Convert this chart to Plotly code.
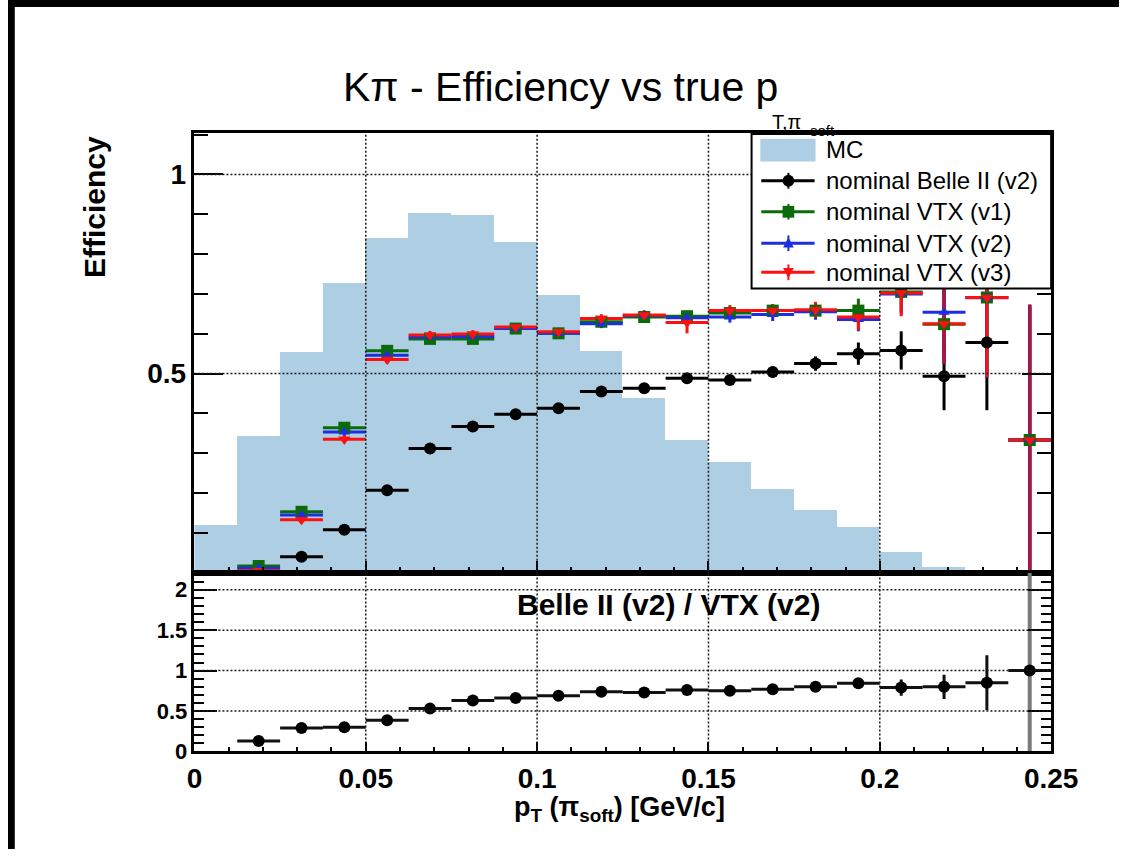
import plotly.graph_objects as go

# ---------------- data ----------------
bin_centers = [0.00625, 0.01875, 0.03125, 0.04375, 0.05625, 0.06875, 0.08125, 0.09375,
               0.10625, 0.11875, 0.13125, 0.14375, 0.15625, 0.16875, 0.18125, 0.19375,
               0.20625, 0.21875, 0.23125, 0.24375]
bin_half_width = 0.00625

mc_shape = [0.120, 0.343, 0.554, 0.727, 0.840, 0.902, 0.897, 0.830, 0.698, 0.557,
            0.440, 0.334, 0.277, 0.211, 0.158, 0.114, 0.052, 0.015, 0.0, 0.0]

belle_v2 = [None, 0.0015, 0.040, 0.108, 0.207, 0.312, 0.367, 0.398, 0.413, 0.455,
            0.463, 0.488, 0.484, 0.504, 0.525, 0.550, 0.558, 0.493, 0.578, 0.333]
belle_v2_err = [0, 0.001, 0.004, 0.006, 0.007, 0.008, 0.008, 0.008, 0.009, 0.009,
                0.010, 0.011, 0.012, 0.014, 0.018, 0.028, 0.048, 0.085, 0.17, 0.333]

vtx_v1 = [None, 0.017, 0.153, 0.364, 0.557, 0.587, 0.587, 0.613, 0.601, 0.630,
          0.642, 0.644, 0.652, 0.658, 0.658, 0.658, 0.705, 0.624, 0.691, 0.333]
vtx_v1_err = [0, 0.004, 0.008, 0.010, 0.010, 0.010, 0.010, 0.010, 0.010, 0.011,
              0.012, 0.013, 0.014, 0.016, 0.020, 0.030, 0.050, 0.100, 0.200, 0.340]

vtx_v2 = [None, 0.011, 0.145, 0.353, 0.546, 0.592, 0.593, 0.613, 0.601, 0.625,
          0.646, 0.640, 0.642, 0.648, 0.655, 0.636, 0.700, 0.654, 0.690, 0.333]
vtx_v2_err = [0, 0.004, 0.008, 0.010, 0.010, 0.010, 0.010, 0.010, 0.010, 0.011,
              0.012, 0.013, 0.014, 0.016, 0.020, 0.030, 0.050, 0.100, 0.200, 0.340]

vtx_v3 = [None, 0.005, 0.133, 0.335, 0.535, 0.597, 0.599, 0.617, 0.605, 0.638,
          0.647, 0.628, 0.658, 0.658, 0.660, 0.642, 0.702, 0.625, 0.691, 0.333]
vtx_v3_err = [0, 0.004, 0.008, 0.010, 0.010, 0.010, 0.010, 0.010, 0.010, 0.011,
              0.012, 0.027, 0.014, 0.016, 0.020, 0.033, 0.058, 0.100, 0.200, 0.340]

ratio = [None, 0.13, 0.29, 0.30, 0.385, 0.53, 0.63, 0.66, 0.69, 0.74,
         0.73, 0.76, 0.75, 0.77, 0.80, 0.845, 0.79, 0.80, 0.85, 1.0]
ratio_err = [0, 0.03, 0.03, 0.03, 0.03, 0.03, 0.03, 0.03, 0.03, 0.03,
             0.03, 0.03, 0.03, 0.035, 0.04, 0.05, 0.10, 0.15, 0.34, 0.0]
ratio_last_err = 1.3          # huge error of the last ratio bin (drawn grey)
overlap_bins = [17, 19]       # bins where the VTX error bars overlap (drawn dark red)

x_ticks = [0, 0.05, 0.1, 0.15, 0.2, 0.25]
x_ticktext = ["0", "0.05", "0.1", "0.15", "0.2", "0.25"]
top_y_ticks = [0.5, 1.0]
top_y_ticktext = ["0.5", "1"]
ratio_y_ticks = [0, 0.5, 1.0, 1.5, 2.0]
ratio_y_ticktext = ["0", "0.5", "1", "1.5", "2"]
grid_x = [0.05, 0.1, 0.15, 0.2]
grid_top_y = [0.5, 1.0]
grid_ratio_y = [0.5, 1.0, 1.5, 2.0]

legend_labels = ["MC", "nominal Belle II (v2)", "nominal VTX (v1)",
                 "nominal VTX (v2)", "nominal VTX (v3)"]

# ---------------- style ----------------
W, H = 1146, 862
FONT = "Liberation Sans, Arial, Helvetica, sans-serif"
MC_COLOR = "#AECFE3"
BLACK = "#000000"
GREEN = "#0B6B0B"
BLUE = "#1C2FE0"
RED = "#FF1010"
MAROON = "#A3164A"
GREY = "#7A7A7A"


def px(x):
    return x / W


def py(y):
    return 1 - y / H


X_DOM = [px(192.3), px(1076)]
TOP_DOM = [py(581.5), py(135)]
BOT_DOM = [py(763), py(581.5)]

fig = go.Figure()

# MC histogram
fig.add_trace(go.Bar(x=bin_centers, y=mc_shape, width=2 * bin_half_width,
                     marker=dict(color=MC_COLOR, line=dict(width=0)),
                     xaxis="x", yaxis="y", showlegend=False, hoverinfo="skip"))


def err_trace(y, err, color, thick, xa="x", ya="y", xerr=True, xs=None):
    xs = bin_centers if xs is None else xs
    return go.Scatter(
        x=xs, y=y, mode="markers",
        marker=dict(size=1, opacity=0, color=color),
        error_x=dict(type="constant", value=bin_half_width, width=0,
                     thickness=thick, color=color, visible=xerr),
        error_y=dict(type="data", array=err, width=0, thickness=thick, color=color),
        xaxis=xa, yaxis=ya, showlegend=False, hoverinfo="skip")


def marker_trace(y, color, symbol, size, xa="x", ya="y"):
    return go.Scatter(x=bin_centers, y=y, mode="markers",
                      marker=dict(symbol=symbol, size=size, color=color, line=dict(width=0)),
                      xaxis=xa, yaxis=ya, showlegend=False)


# error bars
fig.add_trace(err_trace(belle_v2, belle_v2_err, BLACK, 3))
fig.add_trace(err_trace(vtx_v1, vtx_v1_err, GREEN, 3))
fig.add_trace(err_trace(vtx_v2, vtx_v2_err, BLUE, 3))
fig.add_trace(err_trace(vtx_v3, vtx_v3_err, RED, 3))
fig.add_trace(err_trace([vtx_v3[i] for i in overlap_bins],
                        [vtx_v3_err[i] for i in overlap_bins], MAROON, 3.5,
                        xerr=False, xs=[bin_centers[i] for i in overlap_bins]))
# markers
fig.add_trace(marker_trace(belle_v2, BLACK, "circle", 12))
fig.add_trace(marker_trace(vtx_v1, GREEN, "square", 12))
fig.add_trace(marker_trace(vtx_v2, BLUE, "triangle-up", 10))
fig.add_trace(marker_trace(vtx_v3, RED, "triangle-down", 11))

# ratio panel
fig.add_trace(go.Scatter(x=[bin_centers[-1]], y=[ratio[-1]], mode="markers",
                         marker=dict(size=1, opacity=0),
                         error_y=dict(type="constant", value=ratio_last_err, width=0,
                                      thickness=4, color=GREY),
                         xaxis="x2", yaxis="y2", showlegend=False, hoverinfo="skip"))
fig.add_trace(err_trace(ratio, ratio_err, "#111111", 3, xa="x2", ya="y2"))
fig.add_trace(marker_trace(ratio, BLACK, "circle", 12, xa="x2", ya="y2"))

# ---------------- axes ----------------
tickfont_x = dict(family=FONT, size=28, color="black", weight="bold")


def xaxis(anchor, show_labels, major_len, minor_len):
    return dict(domain=X_DOM, anchor=anchor, range=[0, 0.25], tickmode="array",
                tickvals=x_ticks, ticktext=x_ticktext, showticklabels=show_labels,
                tickfont=tickfont_x, ticks="inside", ticklen=major_len, tickwidth=2,
                tickcolor="black", showline=True, linecolor="black", linewidth=2.5,
                mirror=True, showgrid=False, zeroline=False,
                minor=dict(tickmode="linear", tick0=0, dtick=0.01, ticks="inside",
                           ticklen=minor_len, tickwidth=1.5, tickcolor="black",
                           showgrid=False))


def yaxis(anchor, dom, rng, vals, text, fsize, major_len, minor_len):
    return dict(domain=dom, anchor=anchor, range=rng, tickmode="array",
                tickvals=vals, ticktext=text,
                tickfont=dict(family=FONT, size=fsize, color="black", weight="bold"),
                ticks="inside", ticklen=major_len, tickwidth=2, tickcolor="black",
                showline=True, linecolor="black", linewidth=2.5, mirror="ticks",
                showgrid=False, zeroline=False,
                minor=dict(tickmode="linear", tick0=0, dtick=0.1, ticks="inside",
                           ticklen=minor_len, tickwidth=1.5, tickcolor="black",
                           showgrid=False))


fig.update_layout(
    xaxis=xaxis("y", False, 12, 6),
    yaxis=yaxis("x", TOP_DOM, [0, 1.104], top_y_ticks, top_y_ticktext, 28, 29, 14),
    xaxis2=xaxis("y2", True, 10, 5),
    yaxis2=yaxis("x2", BOT_DOM, [0, 2.21], ratio_y_ticks, ratio_y_ticktext, 22, 23, 10),
)

# ---------------- shapes: grid, legend, image edges ----------------
shapes = []
GRID = dict(color="#1a1a1a", width=1.5, dash="2px,2px")
for gx in grid_x:
    shapes.append(dict(type="line", xref="x", yref="y domain", x0=gx, x1=gx, y0=0, y1=1,
                       line=GRID, layer="above"))
    shapes.append(dict(type="line", xref="x2", yref="y2 domain", x0=gx, x1=gx, y0=0, y1=1,
                       line=GRID, layer="above"))
for gy in grid_top_y:
    shapes.append(dict(type="line", xref="x domain", yref="y", x0=0, x1=1, y0=gy, y1=gy,
                       line=GRID, layer="above"))
for gy in grid_ratio_y:
    shapes.append(dict(type="line", xref="x2 domain", yref="y2", x0=0, x1=1, y0=gy, y1=gy,
                       line=GRID, layer="above"))

# legend box
LX0, LX1, LY0, LY1 = 767, 1076, 136, 293
shapes.append(dict(type="rect", xref="paper", yref="paper", x0=px(LX0), x1=px(LX1),
                   y0=py(LY1), y1=py(LY0), fillcolor="white",
                   line=dict(color="black", width=2), layer="above"))
shapes.append(dict(type="rect", xref="paper", yref="paper", x0=px(776), x1=px(833),
                   y0=py(164), y1=py(141), fillcolor=MC_COLOR, line=dict(width=0),
                   layer="above"))
rows = [183.5, 215, 247, 276.5]
row_colors = [BLACK, GREEN, BLUE, RED]
GX0, GX1, GXC = 777, 832, 805
for yc, col in zip(rows, row_colors):
    shapes.append(dict(type="line", xref="paper", yref="paper", x0=px(GX0), x1=px(GX1),
                       y0=py(yc), y1=py(yc), line=dict(color=col, width=3), layer="above"))
    shapes.append(dict(type="line", xref="paper", yref="paper", x0=px(GXC), x1=px(GXC),
                       y0=py(yc - 8), y1=py(yc + 8), line=dict(color=col, width=2),
                       layer="above"))
r = 6
shapes.append(dict(type="circle", xref="paper", yref="paper", x0=px(GXC - r), x1=px(GXC + r),
                   y0=py(rows[0] + r), y1=py(rows[0] - r), fillcolor=BLACK,
                   line=dict(width=0), layer="above"))
shapes.append(dict(type="rect", xref="paper", yref="paper", x0=px(GXC - 6), x1=px(GXC + 6),
                   y0=py(rows[1] + 6), y1=py(rows[1] - 6), fillcolor=GREEN,
                   line=dict(width=0), layer="above"))
t = 5.5
yc = rows[2]
shapes.append(dict(type="path", xref="paper", yref="paper",
                   path=f"M {px(GXC - t)},{py(yc + t * 0.8)} L {px(GXC + t)},{py(yc + t * 0.8)} "
                        f"L {px(GXC)},{py(yc - t * 1.1)} Z",
                   fillcolor=BLUE, line=dict(width=0), layer="above"))
yc = rows[3]
shapes.append(dict(type="path", xref="paper", yref="paper",
                   path=f"M {px(GXC - t)},{py(yc - t * 0.8)} L {px(GXC + t)},{py(yc - t * 0.8)} "
                        f"L {px(GXC)},{py(yc + t * 1.1)} Z",
                   fillcolor=RED, line=dict(width=0), layer="above"))

# black edges of the original screenshot (top and left)
shapes.append(dict(type="rect", xref="paper", yref="paper", x0=0, x1=1, y0=py(7), y1=1,
                   fillcolor="black", line=dict(width=0), layer="above"))
shapes.append(dict(type="rect", xref="paper", yref="paper", x0=0, x1=px(7), y0=0, y1=1,
                   fillcolor="black", line=dict(width=0), layer="above"))

# ---------------- annotations ----------------
ann = []
LEG_FONT = dict(family=FONT, size=24, color="black")
legend_rows = [151.5] + rows
for lab, yc in zip(legend_labels, legend_rows):
    ann.append(dict(text=lab, xref="paper", yref="paper", x=px(842), y=py(yc),
                    xanchor="left", yanchor="middle", showarrow=False, font=LEG_FONT))

ann.append(dict(text="Kπ - Efficiency vs true p", xref="paper", yref="paper",
                x=px(343), y=py(88), xanchor="left", yanchor="middle", showarrow=False,
                font=dict(family=FONT, size=41, color="black")))
ann.append(dict(text="T,π", xref="paper", yref="paper", x=px(786), y=py(124),
                xanchor="left", yanchor="middle", showarrow=False,
                font=dict(family=FONT, size=20, color="black")))
ann.append(dict(text="soft", xref="paper", yref="paper", x=px(825), y=py(132),
                xanchor="left", yanchor="middle", showarrow=False,
                font=dict(family=FONT, size=15, color="black")))

ann.append(dict(text="Efficiency", xref="paper", yref="paper", x=px(90), y=py(210),
                xanchor="center", yanchor="middle", textangle=-90, showarrow=False,
                font=dict(family=FONT, size=30, color="black", weight="bold")))
ann.append(dict(text="p<sub>T</sub> (π<sub>soft</sub>) [GeV/c]", xref="paper", yref="paper",
                x=px(631), y=py(802), xanchor="center", yanchor="top", showarrow=False,
                font=dict(family=FONT, size=27, color="black", weight="bold")))
ann.append(dict(text="Belle II (v2) / VTX (v2)", xref="paper", yref="paper",
                x=px(681), y=py(614), xanchor="center", yanchor="middle", showarrow=False,
                font=dict(family=FONT, size=30, color="black", weight="bold")))

fig.update_layout(
    width=W, height=H, autosize=False,
    margin=dict(l=0, r=0, t=0, b=0, pad=0),
    paper_bgcolor="white", plot_bgcolor="white",
    showlegend=False, bargap=0,
    shapes=shapes, annotations=ann,
    font=dict(family=FONT, color="black"),
)

fig.write_html("out.html", config={"responsive": False})
